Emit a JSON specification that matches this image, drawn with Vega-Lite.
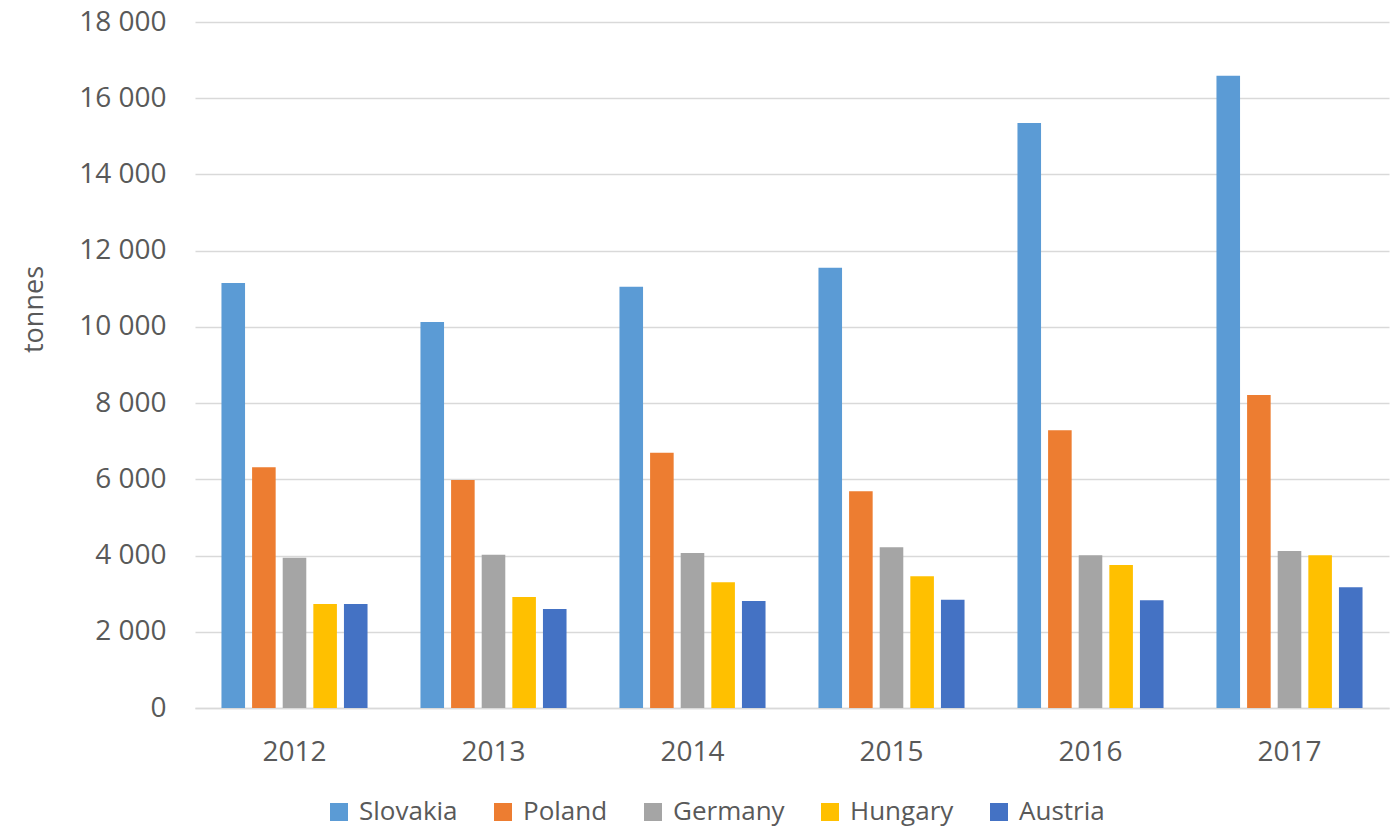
{
  "$schema": "https://vega.github.io/schema/vega-lite/v6.json",
  "width": 1194,
  "height": 686,
  "autosize": {"type": "none"},
  "padding": {"left": 195, "top": 22, "right": 7, "bottom": 120},
  "background": "#ffffff",
  "data": {
    "values": [
      {"year": "2012", "country": "Slovakia", "tonnes": 11150},
      {"year": "2012", "country": "Poland", "tonnes": 6320},
      {"year": "2012", "country": "Germany", "tonnes": 3940},
      {"year": "2012", "country": "Hungary", "tonnes": 2730},
      {"year": "2012", "country": "Austria", "tonnes": 2730},
      {"year": "2013", "country": "Slovakia", "tonnes": 10130},
      {"year": "2013", "country": "Poland", "tonnes": 5980},
      {"year": "2013", "country": "Germany", "tonnes": 4020},
      {"year": "2013", "country": "Hungary", "tonnes": 2910},
      {"year": "2013", "country": "Austria", "tonnes": 2600},
      {"year": "2014", "country": "Slovakia", "tonnes": 11050},
      {"year": "2014", "country": "Poland", "tonnes": 6700},
      {"year": "2014", "country": "Germany", "tonnes": 4070},
      {"year": "2014", "country": "Hungary", "tonnes": 3300},
      {"year": "2014", "country": "Austria", "tonnes": 2810},
      {"year": "2015", "country": "Slovakia", "tonnes": 11550},
      {"year": "2015", "country": "Poland", "tonnes": 5690},
      {"year": "2015", "country": "Germany", "tonnes": 4220},
      {"year": "2015", "country": "Hungary", "tonnes": 3460},
      {"year": "2015", "country": "Austria", "tonnes": 2840},
      {"year": "2016", "country": "Slovakia", "tonnes": 15350},
      {"year": "2016", "country": "Poland", "tonnes": 7290},
      {"year": "2016", "country": "Germany", "tonnes": 4010},
      {"year": "2016", "country": "Hungary", "tonnes": 3750},
      {"year": "2016", "country": "Austria", "tonnes": 2830},
      {"year": "2017", "country": "Slovakia", "tonnes": 16590},
      {"year": "2017", "country": "Poland", "tonnes": 8210},
      {"year": "2017", "country": "Germany", "tonnes": 4120},
      {"year": "2017", "country": "Hungary", "tonnes": 4010},
      {"year": "2017", "country": "Austria", "tonnes": 3170}
    ]
  },
  "mark": {"type": "bar"},
  "encoding": {
    "x": {
      "field": "year",
      "type": "nominal",
      "scale": {"paddingInner": 0.266, "paddingOuter": 0.133},
      "axis": {
        "title": null,
        "labelAngle": 0,
        "labelFont": "Open Sans",
        "labelFontSize": 28,
        "labelColor": "#595959",
        "labelBaseline": "alphabetic",
        "labelPadding": 52,
        "ticks": false,
        "tickSize": 0,
        "domain": true,
        "domainColor": "#d9d9d9",
        "domainWidth": 1.5,
        "grid": false
      }
    },
    "xOffset": {
      "field": "country",
      "type": "nominal",
      "sort": ["Slovakia", "Poland", "Germany", "Hungary", "Austria"],
      "scale": {"paddingInner": 0.23, "paddingOuter": 0}
    },
    "y": {
      "field": "tonnes",
      "type": "quantitative",
      "scale": {"domain": [0, 18000], "nice": false},
      "axis": {
        "title": "tonnes",
        "titleFont": "Open Sans",
        "titleFontSize": 27,
        "titleFontWeight": "normal",
        "titleColor": "#595959",
        "titleAngle": -90,
        "titleBaseline": "alphabetic",
        "titleX": -153,
        "titleY": 287,
        "titleAlign": "center",
        "values": [0, 2000, 4000, 6000, 8000, 10000, 12000, 14000, 16000, 18000],
        "labelExpr": "replace(format(datum.value, ','), ',', ' ')",
        "labelFont": "Open Sans",
        "labelFontSize": 28,
        "labelColor": "#595959",
        "labelPadding": 29,
        "ticks": false,
        "tickSize": 0,
        "domain": false,
        "grid": true,
        "gridColor": "#d9d9d9",
        "gridWidth": 1.3
      }
    },
    "color": {
      "field": "country",
      "type": "nominal",
      "sort": ["Slovakia", "Poland", "Germany", "Hungary", "Austria"],
      "scale": {
        "domain": ["Slovakia", "Poland", "Germany", "Hungary", "Austria"],
        "range": ["#5B9BD5", "#ED7D31", "#A5A5A5", "#FFC000", "#4472C4"]
      },
      "legend": {
        "title": null,
        "orient": "none",
        "direction": "horizontal",
        "legendX": 131,
        "legendY": 777,
        "symbolType": "square",
        "symbolSize": 324,
        "symbolStrokeWidth": 0,
        "symbolOpacity": 1,
        "labelFont": "Open Sans",
        "labelFontSize": 26,
        "labelColor": "#595959",
        "labelOffset": 7,
        "columnPadding": 32
      }
    }
  },
  "config": {
    "view": {"stroke": null}
  }
}
